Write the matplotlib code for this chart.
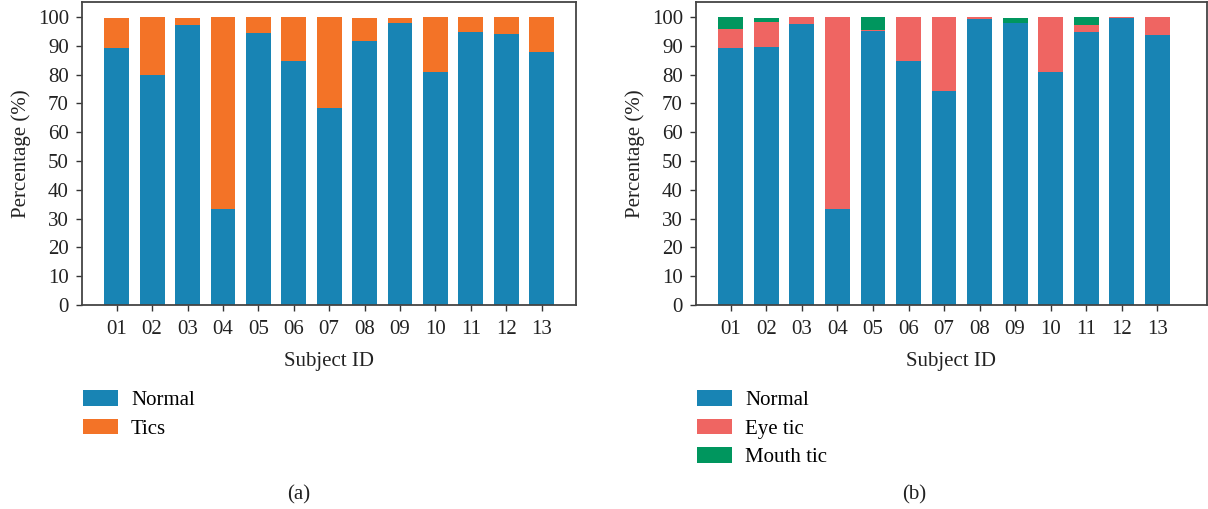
import matplotlib
matplotlib.use("Agg")
import matplotlib.pyplot as plt
import numpy as np

subjects = ["01", "02", "03", "04", "05", "06", "07", "08", "09", "10", "11", "12", "13"]

# Panel (a)
normal_a = [89.1, 79.8, 97.1, 33.4, 94.3, 84.6, 68.5, 91.6, 97.8, 80.9, 94.7, 94.0, 87.8]
tics_a = [10.6, 20.2, 2.6, 66.6, 5.7, 15.4, 31.5, 8.1, 1.9, 19.1, 5.3, 6.0, 12.2]

# Panel (b)
normal_b = [89.1, 89.5, 97.5, 33.4, 95.3, 84.6, 74.2, 99.2, 97.8, 80.9, 94.7, 99.7, 93.6]
eye_b = [6.6, 8.7, 2.5, 66.6, 0.2, 15.4, 25.8, 0.8, 0.0, 19.1, 2.4, 0.3, 6.4]
mouth_b = [4.3, 1.5, 0.0, 0.0, 4.5, 0.0, 0.0, 0.0, 1.9, 0.0, 2.9, 0.0, 0.0]

C_BLUE = "#1884b4"
C_ORANGE = "#f37327"
C_RED = "#ef6562"
C_GREEN = "#00965e"

plt.rcParams["font.family"] = ["Liberation Serif", "DejaVu Serif"]
plt.rcParams["font.size"] = 15

fig = plt.figure(figsize=(12.08, 5.09), dpi=100)
ax1 = fig.add_axes([82 / 1208, 1 - 305 / 509, 494 / 1208, 303 / 509])
ax2 = fig.add_axes([696 / 1208, 1 - 305 / 509, 511 / 1208, 303 / 509])

x = np.arange(len(subjects))
w = 0.7

ax1.bar(x, normal_a, w, color=C_BLUE, label="Normal")
ax1.bar(x, tics_a, w, bottom=normal_a, color=C_ORANGE, label="Tics")

nb = np.array(normal_b)
eb = np.array(eye_b)
ax2.bar(x, normal_b, w, color=C_BLUE, label="Normal")
ax2.bar(x, eye_b, w, bottom=nb, color=C_RED, label="Eye tic")
ax2.bar(x, mouth_b, w, bottom=nb + eb, color=C_GREEN, label="Mouth tic")

for ax, xr in ((ax1, (-0.98, 12.97)), (ax2, (-0.98, 13.4))):
    ax.set_ylim(0, 105.2)
    ax.set_xlim(*xr)
    ax.set_yticks(np.arange(0, 101, 10))
    ax.set_xticks(x)
    ax.set_xticklabels(subjects)
    ax.tick_params(axis="both", direction="out", length=4.5, width=1, color="#333333",
                   labelsize=15, labelcolor="#222222")
    ax.tick_params(axis="x", pad=6.5)
    ax.tick_params(axis="y", pad=5)
    for s in ax.spines.values():
        s.set_color("#444444")
        s.set_linewidth(1.3)
    ax.set_xlabel("Subject ID", fontsize=15, color="#222222", labelpad=9)
    ax.set_ylabel("Percentage (%)", fontsize=15, color="#222222", labelpad=5)

leg_kw = dict(loc="upper left", frameon=False, fontsize=15, handlelength=1.68,
              handleheight=0.77, labelspacing=0.4, handletextpad=0.63,
              borderaxespad=0, borderpad=0)
ax1.legend(bbox_to_anchor=(0.002, -0.282), **leg_kw)
ax2.legend(bbox_to_anchor=(0.002, -0.282), **leg_kw)

fig.text(299 / 1208, 1 - 495 / 509, "(a)", ha="center", va="center", fontsize=15, color="#222222")
fig.text(914 / 1208, 1 - 495 / 509, "(b)", ha="center", va="center", fontsize=15, color="#222222")

fig.savefig("out.png", dpi=100)
